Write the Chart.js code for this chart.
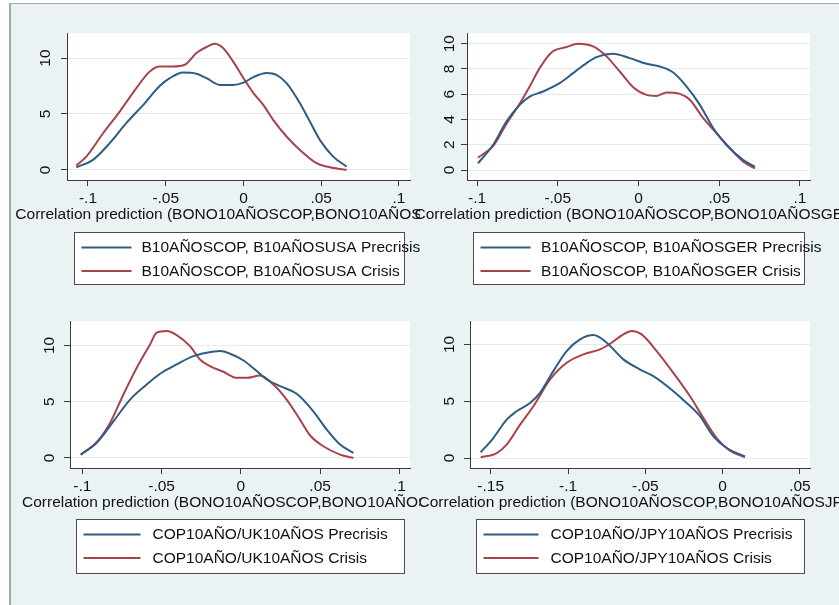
<!DOCTYPE html>
<html>
<head>
<meta charset="utf-8">
<script src="https://cdn.jsdelivr.net/npm/chart.js@4.4.1/dist/chart.umd.min.js"></script>
<style>
  html, body { margin: 0; padding: 0; background: #ffffff; width: 839px; height: 605px; overflow: hidden; }
  #frame { position: absolute; left: 9px; top: 3px; width: 830px; height: 602px; background: #EAF2F3;
           border-left: 2px solid #A3A8AC; border-top: 1px solid #A3A8AC; box-sizing: border-box; }
  canvas { position: absolute; }
</style>
</head>
<body>
<div id="frame"></div>
<canvas id="c1" width="420" height="290" style="left:0px;top:0px"></canvas>
<canvas id="c2" width="429" height="290" style="left:410px;top:0px"></canvas>
<canvas id="c3" width="420" height="315" style="left:0px;top:290px"></canvas>
<canvas id="c4" width="429" height="315" style="left:410px;top:290px"></canvas>
<script>
// ---- kernel density estimates: correlation predictions, precrisis vs crisis ----
const usaPreX = [-0.1075,-0.0968,-0.086,-0.0753,-0.0646,-0.0539,-0.0474,-0.0388,-0.0303,-0.0238,-0.0152,-0.0067,0,0.0064,0.0148,0.0212,0.0277,0.0363,0.0427,0.0491,0.0577,0.0663];
const usaPreY = [0.24,0.9,2.4,4.2,5.8,7.5,8.2,8.7,8.6,8.2,7.6,7.6,7.8,8.3,8.66,8.5,7.76,5.97,4.33,2.69,1.19,0.3];
const usaCriX = [-0.1075,-0.1011,-0.0903,-0.0796,-0.0689,-0.0603,-0.0539,-0.0453,-0.0378,-0.0303,-0.0238,-0.0185,-0.0131,-0.0067,0,0.0064,0.0127,0.0191,0.0277,0.0363,0.047,0.0534,0.0663];
const usaCriY = [0.39,1.19,3.28,5.22,7.31,8.8,9.25,9.25,9.4,10.45,10.99,11.28,10.9,9.7,8.2,6.87,5.82,4.48,2.99,1.79,0.6,0.3,0.0];

const gerPreX = [-0.0994,-0.0901,-0.0818,-0.0736,-0.0674,-0.0591,-0.0488,-0.0405,-0.0322,-0.026,-0.0157,-0.0054,0.005,0.0132,0.0215,0.0298,0.038,0.0463,0.0545,0.0649,0.0721];
const gerPreY = [0.53,1.98,3.84,5.16,5.82,6.22,6.88,7.67,8.47,8.94,9.21,8.86,8.41,8.2,7.72,6.61,5.16,3.31,1.98,0.79,0.26];
const gerCriX = [-0.0994,-0.0901,-0.0818,-0.0736,-0.0674,-0.0612,-0.0539,-0.0446,-0.0374,-0.0281,-0.0198,-0.0116,-0.0033,0.005,0.0112,0.0174,0.0256,0.0318,0.0401,0.0483,0.0566,0.0649,0.0721];
const gerCriY = [0.98,1.9,3.65,5.24,6.61,8.07,9.31,9.74,10.0,9.79,9.0,7.8,6.56,5.95,5.87,6.14,6.03,5.56,4.1,2.91,1.72,0.66,0.13];

const ukPreX = [-0.101,-0.091,-0.0804,-0.0699,-0.0594,-0.051,-0.0405,-0.03,-0.0216,-0.0131,-0.0068,0.0017,0.01,0.0163,0.0247,0.0352,0.0457,0.0542,0.0626,0.071];
const ukPreY = [0.3,1.34,3.26,5.19,6.53,7.48,8.31,9.05,9.35,9.5,9.26,8.66,7.72,6.97,6.38,5.7,4.15,2.52,1.19,0.45];
const ukCriX = [-0.101,-0.091,-0.0825,-0.0741,-0.0657,-0.0573,-0.0531,-0.0468,-0.0405,-0.0321,-0.0258,-0.0195,-0.011,-0.0026,0.0037,0.0121,0.0205,0.0289,0.0373,0.0436,0.052,0.0626,0.071];
const ukCriY = [0.3,1.4,3.12,5.64,8.01,10.09,11.13,11.28,10.92,9.94,8.75,8.16,7.66,7.12,7.12,7.33,6.53,5.19,3.41,2.02,1.04,0.3,0.0];

const jpyPreX = [-0.1565,-0.1483,-0.1397,-0.1332,-0.1246,-0.1181,-0.1095,-0.1009,-0.0922,-0.0836,-0.075,-0.0642,-0.0534,-0.0448,-0.034,-0.0233,-0.0147,-0.006,0.0026,0.0144];
const jpyPreY = [0.5,1.76,3.38,4.12,4.85,5.74,7.65,9.41,10.44,10.82,10.15,8.68,7.79,7.21,6.12,4.85,3.68,1.91,0.88,0.15];
const jpyCriX = [-0.1565,-0.1461,-0.1397,-0.131,-0.1224,-0.1116,-0.1009,-0.0901,-0.0793,-0.0728,-0.0642,-0.0588,-0.0524,-0.0427,-0.0319,-0.0211,-0.0125,-0.0039,0.0047,0.0144];
const jpyCriY = [0.06,0.44,1.18,2.94,4.56,6.91,8.38,9.12,9.56,10.06,10.88,11.18,10.88,9.41,7.5,5.44,3.53,1.76,0.65,0.06];

// ---- tick values ----
const xTicksA = [-0.1, -0.05, 0, 0.05, 0.1];
const xTicksJpy = [-0.15, -0.1, -0.05, 0, 0.05];
const yTicks5 = [0, 5, 10];
const yTicks2 = [0, 2, 4, 6, 8, 10];

// ---- axis ranges ----
const usaXRange = [-0.1135, 0.1071], usaYRange = [-0.9, 12.24];
const gerXRange = [-0.1062, 0.1062], gerYRange = [-0.79, 10.85];
const ukXRange  = [-0.1078, 0.1067], ukYRange  = [-0.89, 12.17];
const jpyXRange = [-0.1634, 0.0565], jpyYRange = [-0.88, 12.06];

// ---- texts ----
const usaLabels = ['B10AÑOSCOP, B10AÑOSUSA Precrisis', 'B10AÑOSCOP, B10AÑOSUSA Crisis'];
const gerLabels = ['B10AÑOSCOP, B10AÑOSGER Precrisis', 'B10AÑOSCOP, B10AÑOSGER Crisis'];
const ukLabels  = ['COP10AÑO/UK10AÑOS Precrisis', 'COP10AÑO/UK10AÑOS Crisis'];
const jpyLabels = ['COP10AÑO/JPY10AÑOS Precrisis', 'COP10AÑO/JPY10AÑOS Crisis'];
const usaTitle = 'Correlation prediction (BONO10AÑOSCOP,BONO10AÑOSUSA)';
const gerTitle = 'Correlation prediction (BONO10AÑOSCOP,BONO10AÑOSGER)';
const ukTitle  = 'Correlation prediction (BONO10AÑOSCOP,BONO10AÑOSUK)';
const jpyTitle = 'Correlation prediction (BONO10AÑOSCOP,BONO10AÑOSJPY)';

// ---- styling ----
const FONT = '"Liberation Sans", Arial, Helvetica, sans-serif';
const FS = 15.5;
const BLUE = '#2E5D84';
const RED = '#A9424C';
const AXIS = '#3a3a3a';
const GRID = '#E2EBEE';
const TEXT = '#111111';

function stataFmt(v) {
  if (Math.abs(v) < 1e-12) return '0';
  let s = String(+v.toFixed(4));
  return s.replace('0.', '.');
}

// plot region fill, rotated y labels, axis title and boxed legend
const panelDecor = {
  id: 'panelDecor',
  beforeDraw(chart) {
    const a = chart.chartArea, ctx = chart.ctx;
    ctx.save();
    ctx.fillStyle = '#ffffff';
    ctx.fillRect(a.left, a.top, a.right - a.left, a.bottom - a.top);
    ctx.restore();
  },
  afterDraw(chart, args, o) {
    const a = chart.chartArea, ctx = chart.ctx;
    const ys = chart.scales.y;
    ctx.save();
    ctx.fillStyle = TEXT;
    ctx.font = FS + 'px ' + FONT;
    // rotated y tick labels
    ctx.textAlign = 'center';
    ctx.textBaseline = 'middle';
    ys.ticks.forEach(t => {
      const py = ys.getPixelForValue(t.value);
      ctx.save();
      ctx.translate(a.left + o.yLabelDx, py);
      ctx.rotate(-Math.PI / 2);
      ctx.fillText(stataFmt(t.value), 0, 0);
      ctx.restore();
    });
    // x axis title
    ctx.textAlign = 'center';
    ctx.fillText(o.title, (a.left + a.right) / 2 - 1.5, a.bottom + o.titleDy);
    // legend box
    const cx = (a.left + a.right) / 2;
    const bx = Math.round(cx - o.legW / 2) + 0.5;
    const by = Math.round(a.bottom + o.legDy) + 0.5;
    ctx.fillStyle = '#ffffff';
    ctx.fillRect(bx, by, o.legW, o.legH);
    ctx.strokeStyle = '#4a4a4a';
    ctx.lineWidth = 1;
    ctx.strokeRect(bx, by, o.legW, o.legH);
    ctx.textAlign = 'left';
    chart.data.datasets.forEach((ds, i) => {
      const ry = by + o.rowY[i];
      ctx.strokeStyle = ds.borderColor;
      ctx.lineWidth = 1.8;
      ctx.beginPath();
      ctx.moveTo(bx + o.sampleDx, ry);
      ctx.lineTo(bx + o.sampleDx + o.sampleLen, ry);
      ctx.stroke();
      ctx.fillStyle = TEXT;
      ctx.fillText(ds.label, bx + o.textDx, ry + 0.5);
    });
    ctx.restore();
  }
};

function makePanel(id, area, W, H, series, labels, xr, yr, xt, yt, decor) {
  const datasets = series.map((s, i) => ({
    label: labels[i],
    data: s.x.map((x, k) => ({ x: x, y: s.y[k] })),
    borderColor: i === 0 ? BLUE : RED,
    backgroundColor: i === 0 ? BLUE : RED,
    borderWidth: 2,
    pointRadius: 0,
    fill: false,
    cubicInterpolationMode: 'monotone'
  }));
  return new Chart(document.getElementById(id), {
    type: 'line',
    data: { datasets },
    options: {
      responsive: false,
      animation: false,
      events: [],
      devicePixelRatio: 1,
      layout: { padding: { left: 0, top: area.t, right: W - area.r, bottom: 0 } },
      plugins: { legend: { display: false }, tooltip: { enabled: false }, panelDecor: decor },
      scales: {
        x: {
          type: 'linear', min: xr[0], max: xr[1],
          afterBuildTicks: s => { s.ticks = xt.map(v => ({ value: v })); },
          afterFit: s => { s.height = H - area.b; s.paddingLeft = 0; s.paddingRight = 0; },
          ticks: { autoSkip: false, maxRotation: 0, minRotation: 0, padding: 3, color: TEXT,
                   font: { family: FONT, size: FS }, callback: v => stataFmt(v) },
          grid: { drawOnChartArea: false, drawTicks: true, tickLength: 6, tickColor: AXIS, tickWidth: 1 },
          border: { display: true, color: AXIS, width: 1 }
        },
        y: {
          type: 'linear', min: yr[0], max: yr[1],
          afterBuildTicks: s => { s.ticks = yt.map(v => ({ value: v })); },
          afterFit: s => { s.width = area.l; s.paddingTop = 0; s.paddingBottom = 0; },
          ticks: { display: false },
          grid: { color: GRID, lineWidth: 1, drawTicks: true, tickLength: 6, tickColor: AXIS, tickWidth: 1 },
          border: { display: true, color: AXIS, width: 1 }
        }
      }
    },
    plugins: [panelDecor]
  });
}

makePanel('c1', { l: 67, t: 33, r: 410, b: 180 }, 420, 290,
  [{ x: usaPreX, y: usaPreY }, { x: usaCriX, y: usaCriY }], usaLabels,
  usaXRange, usaYRange, xTicksA, yTicks5,
  { yLabelDx: -21, title: usaTitle, titleDy: 35, legW: 330, legH: 52, legDy: 52,
    rowY: [15, 38.5], sampleDx: 7, sampleLen: 50, textDx: 67 });

makePanel('c2', { l: 57, t: 33, r: 400, b: 180 }, 429, 290,
  [{ x: gerPreX, y: gerPreY }, { x: gerCriX, y: gerCriY }], gerLabels,
  gerXRange, gerYRange, xTicksA, yTicks2,
  { yLabelDx: -17, title: gerTitle, titleDy: 35, legW: 331, legH: 52, legDy: 52,
    rowY: [15, 38.5], sampleDx: 7, sampleLen: 50, textDx: 67.5 });

makePanel('c3', { l: 70, t: 31, r: 410, b: 178 }, 420, 315,
  [{ x: ukPreX, y: ukPreY }, { x: ukCriX, y: ukCriY }], ukLabels,
  ukXRange, ukYRange, xTicksA, yTicks5,
  { yLabelDx: -20, title: ukTitle, titleDy: 35, legW: 328, legH: 54, legDy: 51,
    rowY: [15, 38.5], sampleDx: 7, sampleLen: 57, textDx: 76 });

makePanel('c4', { l: 60, t: 31, r: 400, b: 178 }, 429, 315,
  [{ x: jpyPreX, y: jpyPreY }, { x: jpyCriX, y: jpyCriY }], jpyLabels,
  jpyXRange, jpyYRange, xTicksJpy, yTicks5,
  { yLabelDx: -20, title: jpyTitle, titleDy: 35, legW: 328, legH: 54, legDy: 51,
    rowY: [15, 38.5], sampleDx: 7, sampleLen: 55, textDx: 74 });
</script>
</body>
</html>
